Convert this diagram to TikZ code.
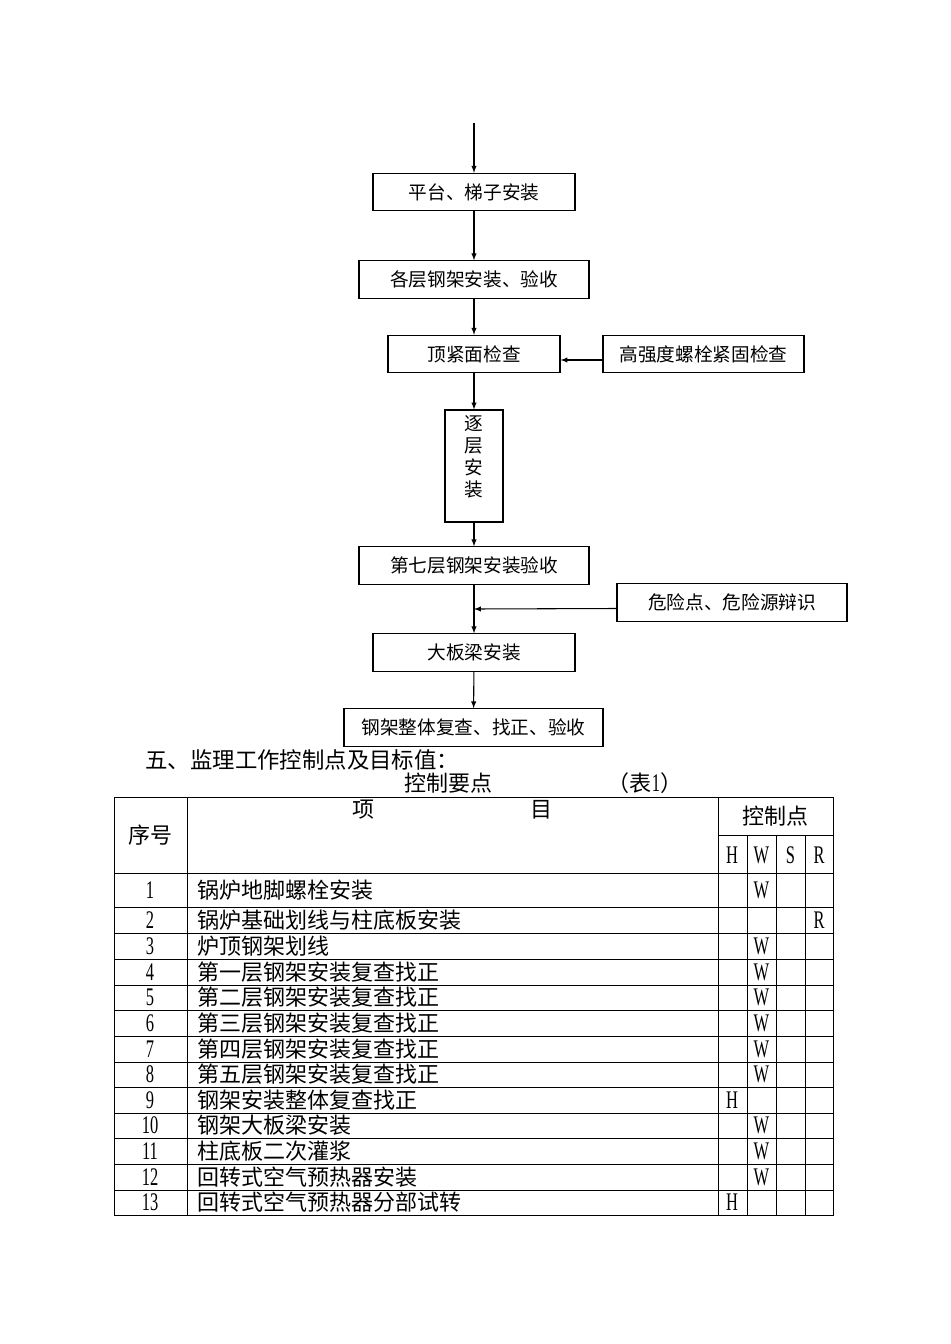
\documentclass[tikz,border=0pt]{standalone}
\usepackage{fontspec}
\setmainfont{Liberation Serif}
\newfontfamily\cjk{Noto Sans CJK SC}
\newfontfamily\narrow[FakeStretch=0.65]{Liberation Serif}
\usetikzlibrary{positioning}

\begin{document}
\begin{tikzpicture}[-latex ,x=0.75pt ,y=-0.75pt ,thick ,
stage/.style ={rectangle ,draw ,minimum height =28pt ,inner sep =0pt ,
  font=\cjk\fontsize{14}{16}\selectfont},
cell/.style ={inner sep=0pt ,font=\cjk\fontsize{16.5}{18}\selectfont},
ctrlmark/.style ={inner sep=0pt ,font=\narrow\fontsize{19}{20}\selectfont},
grid/.style ={-, line width=0.6pt}
]
\useasboundingbox (0,0) rectangle (950,1344);
% flow chart
\coordinate (start) at (474,123);
\node[stage, minimum width=151.5pt] (platform) at (474,192) {平台、梯子安装};
\node[stage, minimum width=172.5pt] (frames) at (474,279.5) {各层钢架安装、验收};
\node[stage, minimum width=129pt] (topface) at (474,354) {顶紧面检查};
\node[stage, minimum width=150.75pt] (bolts) at (703.5,354) {高强度螺栓紧固检查};
\node[stage, minimum width=43.5pt, minimum height=84pt] (layer) at (474,466) {};
\node[cell, font=\cjk\fontsize{14}{16.5}\selectfont, align=center, anchor=north]
  (layertext) at (474,415) {逐\\层\\安\\装};
\node[stage, minimum width=172.5pt] (seventh) at (474,565.5) {第七层钢架安装验收};
\node[stage, minimum width=172.5pt] (hazard) at (732,602.5) {危险点、危险源辩识};
\coordinate (join) at (474,609);
\node[stage, minimum width=151.5pt] (girder) at (474,652.5) {大板梁安装};
\node[stage, minimum width=194.25pt] (final) at (473.5,727.5) {钢架整体复查、找正、验收};
\draw (start) -- (platform);
\draw (platform) -- (frames);
\draw (frames) -- (topface);
\draw ([yshift=-4.5pt]bolts.west) -- ([yshift=-4.5pt]topface.east);
\draw (topface) -- (layer);
\draw (layer) -- (seventh);
\draw (seventh) -- (girder);
\draw ([yshift=-4.5pt]hazard.west) -- (join);
\draw (girder) -- (final);
% title and caption
\node[cell, anchor=west, font=\cjk\fontsize{16.8}{18}\selectfont] (title) at (145,760)
  {五、监理工作控制点及目标值：};
\node[cell] (caption) at (448,783) {控制要点};
\node[cell] (tabno) at (645,783) {（表{\narrow\fontsize{19}{20}\selectfont 1}）};
% table
\draw[grid] (114,797) rectangle (833,1215);
\draw[grid] (187,797) -- (187,1215);
\draw[grid] (718,797) -- (718,1215);
\draw[grid] (718,835) -- (833,835);
\foreach \x in {747,776,805}
  \draw[grid] (\x,835) -- (\x,1215);
\foreach \y in {873,907,933,959,985,1010,1036,1062,1087,1113,1138,1164,1190}
  \draw[grid] (114,\y) -- (833,\y);
\node[cell] (hseq) at (150,835) {序号};
\node[cell] (hitem) at (363,810) {项};
\node[cell] (hitemb) at (541,810) {目};
\node[cell] (hctrl) at (775,816) {控制点};
\node[ctrlmark] (hH) at (732,855) {H};
\node[ctrlmark] (hW) at (761.5,855) {W};
\node[ctrlmark] (hS) at (790.5,855) {S};
\node[ctrlmark] (hR) at (819,855) {R};
\foreach \y/\n/\item/\m/\mx in {
  890/1/锅炉地脚螺栓安装/W/761.5,
  920/2/锅炉基础划线与柱底板安装/R/819,
  946/3/炉顶钢架划线/W/761.5,
  972/4/第一层钢架安装复查找正/W/761.5,
  997.5/5/第二层钢架安装复查找正/W/761.5,
  1023/6/第三层钢架安装复查找正/W/761.5,
  1049/7/第四层钢架安装复查找正/W/761.5,
  1074.5/8/第五层钢架安装复查找正/W/761.5,
  1100/9/钢架安装整体复查找正/H/732,
  1125.5/10/钢架大板梁安装/W/761.5,
  1151/11/柱底板二次灌浆/W/761.5,
  1177/12/回转式空气预热器安装/W/761.5,
  1202.5/13/回转式空气预热器分部试转/H/732}
{
  \node[ctrlmark] (num\n) at (150,\y) {\n};
  \node[cell, anchor=west] (item\n) at (197,\y) {\item};
  \node[ctrlmark] (mark\n) at (\mx,\y) {\m};
}
\end{tikzpicture}
\end{document}
